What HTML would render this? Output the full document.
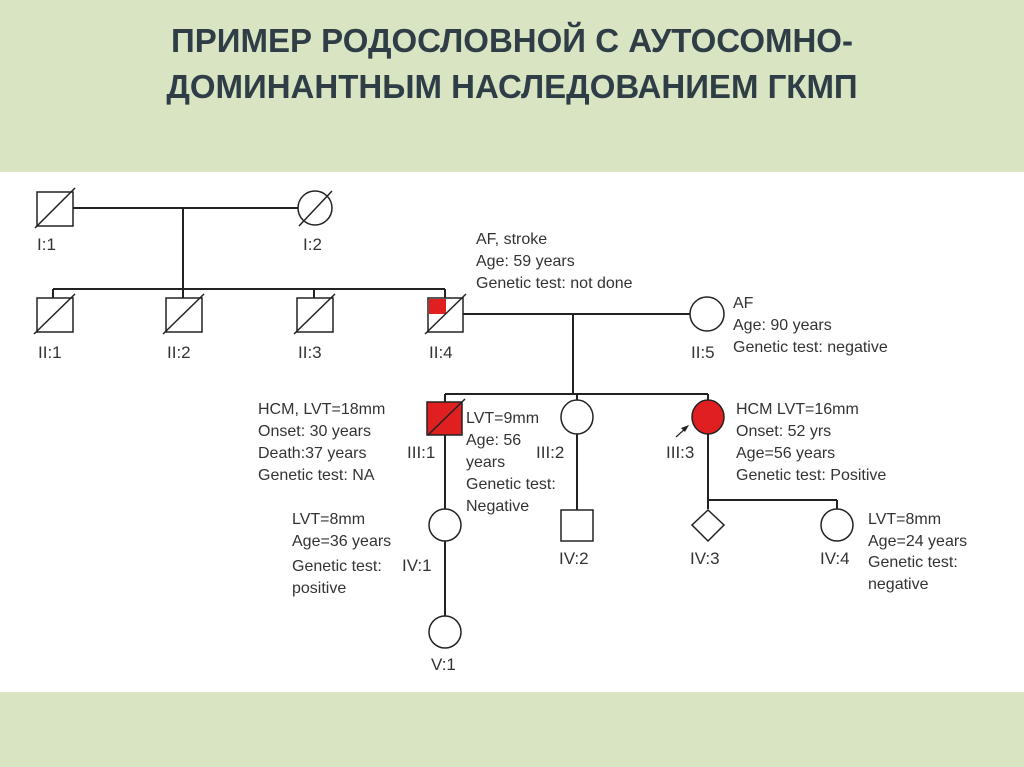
<!DOCTYPE html>
<html><head><meta charset="utf-8"><style>
body{margin:0;width:1024px;height:767px;overflow:hidden;background:#fff;font-family:"Liberation Sans",sans-serif}
.top{position:absolute;left:0;top:0;width:1024px;height:172px;background:#d8e4c2}
.bot{position:absolute;left:0;top:692px;width:1024px;height:75px;background:#d8e4c2}
.title{position:absolute;left:0;top:18px;width:1024px;text-align:center;font-weight:bold;font-size:33px;line-height:46px;color:#2f3d46}
svg{position:absolute;left:0;top:0}
text{font-family:"Liberation Sans",sans-serif;font-size:16px;fill:#333}
.l{font-size:17px}
</style></head><body>
<div class="top"></div><div class="bot"></div>
<div class="title">ПРИМЕР РОДОСЛОВНОЙ С АУТОСОМНО-<br>ДОМИНАНТНЫМ НАСЛЕДОВАНИЕМ ГКМП</div>
<svg width="1024" height="767" stroke="#222" stroke-width="2" fill="none">
<!-- Gen I -->
<line x1="73" y1="208" x2="298" y2="208"/>
<line x1="183" y1="208" x2="183" y2="289"/>
<rect x="37" y="192" width="36" height="34" fill="#fff" stroke-width="1.5"/>
<line x1="35" y1="228" x2="75" y2="188" stroke-width="1.5"/>
<circle cx="315" cy="208" r="17" fill="#fff" stroke-width="1.5"/>
<line x1="299" y1="226" x2="332" y2="191" stroke-width="1.5"/>
<!-- Gen II -->
<line x1="53" y1="289" x2="445" y2="289"/>
<line x1="53" y1="289" x2="53" y2="298"/>
<line x1="183" y1="289" x2="183" y2="298"/>
<line x1="314" y1="289" x2="314" y2="298"/>
<line x1="445" y1="289" x2="445" y2="298"/>
<rect x="37" y="298" width="36" height="34" fill="#fff" stroke-width="1.5"/><line x1="34" y1="334" x2="75" y2="294" stroke-width="1.5"/>
<rect x="166" y="298" width="36" height="34" fill="#fff" stroke-width="1.5"/><line x1="163" y1="334" x2="204" y2="294" stroke-width="1.5"/>
<rect x="297" y="298" width="36" height="34" fill="#fff" stroke-width="1.5"/><line x1="294" y1="334" x2="335" y2="294" stroke-width="1.5"/>
<rect x="428" y="298" width="35" height="34" fill="#fff" stroke-width="1.5"/>
<rect x="429" y="299" width="17" height="15" fill="#e02020" stroke="none"/>
<line x1="425" y1="334" x2="466" y2="294" stroke-width="1.5"/>
<line x1="463" y1="314" x2="690" y2="314"/>
<circle cx="707" cy="314" r="17" fill="#fff" stroke-width="1.5"/>
<line x1="573" y1="314" x2="573" y2="394"/>
<!-- Gen III -->
<line x1="445" y1="394" x2="708" y2="394"/>
<line x1="445" y1="394" x2="445" y2="402"/>
<line x1="577" y1="394" x2="577" y2="401"/>
<line x1="708" y1="394" x2="708" y2="401"/>
<line x1="445" y1="435" x2="445" y2="616"/>
<line x1="577" y1="433" x2="577" y2="510"/>
<line x1="708" y1="433" x2="708" y2="509"/>
<line x1="708" y1="500" x2="837" y2="500"/>
<line x1="837" y1="500" x2="837" y2="509"/>
<rect x="427" y="402" width="35" height="33" fill="#e02020" stroke-width="1.5"/>
<line x1="428" y1="435" x2="465" y2="399" stroke-width="1.5"/>
<ellipse cx="577" cy="417" rx="16" ry="17" fill="#fff" stroke-width="1.5"/>
<ellipse cx="708" cy="417" rx="16" ry="17" fill="#e02020" stroke-width="1.5"/>
<line x1="676" y1="437" x2="686" y2="428" stroke-width="1.2"/>
<polygon points="689,425 681,428 685,432" fill="#222" stroke="none"/>
<!-- Gen IV -->
<ellipse cx="445" cy="525" rx="16" ry="16" fill="#fff" stroke-width="1.5"/>
<rect x="561" y="510" width="32" height="31" fill="#fff" stroke-width="1.5"/>
<polygon points="708,510 724,525 708,541 692,525" fill="#fff" stroke-width="1.5"/>
<ellipse cx="837" cy="525" rx="16" ry="16" fill="#fff" stroke-width="1.5"/>
<ellipse cx="445" cy="632" rx="16" ry="16" fill="#fff" stroke-width="1.5"/>
<g stroke="none">
<text class="l" x="37" y="250">I:1</text><text class="l" x="303" y="250">I:2</text>
<text class="l" x="38" y="358">II:1</text><text class="l" x="167" y="358">II:2</text><text class="l" x="298" y="358">II:3</text><text class="l" x="429" y="358">II:4</text><text class="l" x="691" y="358">II:5</text>
<text x="476" y="244">AF, stroke</text><text x="476" y="266">Age: 59 years</text><text x="476" y="288">Genetic test: not done</text>
<text x="733" y="308">AF</text><text x="733" y="330">Age: 90 years</text><text x="733" y="352">Genetic test: negative</text>
<text x="258" y="414">HCM, LVT=18mm</text><text x="258" y="436">Onset: 30 years</text><text x="258" y="458">Death:37 years</text><text x="258" y="480">Genetic test: NA</text>
<text class="l" x="407" y="458">III:1</text>
<text x="466" y="423">LVT=9mm</text><text x="466" y="445">Age: 56</text><text x="466" y="467">years</text><text x="466" y="489">Genetic test:</text><text x="466" y="511">Negative</text>
<text class="l" x="536" y="458">III:2</text><text class="l" x="666" y="458">III:3</text>
<text x="736" y="414">HCM LVT=16mm</text><text x="736" y="436">Onset: 52 yrs</text><text x="736" y="458">Age=56 years</text><text x="736" y="480">Genetic test: Positive</text>
<text x="292" y="524">LVT=8mm</text><text x="292" y="546">Age=36 years</text><text x="292" y="571">Genetic test:</text><text class="l" x="402" y="571">IV:1</text><text x="292" y="593">positive</text>
<text class="l" x="559" y="564">IV:2</text><text class="l" x="690" y="564">IV:3</text><text class="l" x="820" y="564">IV:4</text>
<text x="868" y="524">LVT=8mm</text><text x="868" y="546">Age=24 years</text><text x="868" y="567">Genetic test:</text><text x="868" y="589">negative</text>
<text class="l" x="431" y="670">V:1</text>
</g>
</svg>
</body></html>
